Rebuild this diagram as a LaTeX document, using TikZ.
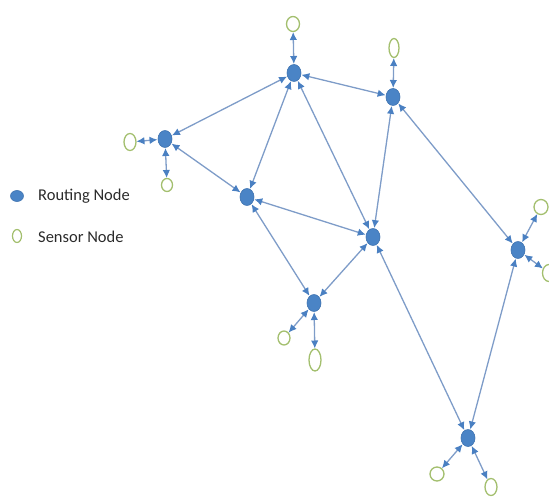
\documentclass[tikz,border=0pt]{standalone}
\usepackage{fontspec}
\setmainfont{Carlito}
\usetikzlibrary{arrows.meta,shapes.geometric}
\definecolor{routc}{HTML}{4A84C6}
\definecolor{routd}{HTML}{3F73B0}
\definecolor{sensc}{HTML}{A3BF6E}
\definecolor{linec}{HTML}{7E9CC8}
\definecolor{tipc}{HTML}{4A80C2}
\definecolor{txtc}{HTML}{2A2A2A}
\tikzset{
  routing/.style={ellipse,fill=routc,draw=routd,line width=0.6pt,minimum width=14pt,minimum height=17pt,inner sep=0pt,outer sep=0.5pt},
  sensor/.style={ellipse,fill=white,draw=sensc,line width=1.3pt,inner sep=0pt,outer sep=0.5pt},
  link/.style={draw=linec,line width=1.3pt,{Latex[length=8pt,width=7.5pt,color=tipc]}-{Latex[length=8pt,width=7.5pt,color=tipc]}},
  legtext/.style={anchor=west,font=\fontsize{16.5}{18}\selectfont,text=txtc,inner sep=0pt}
}
\begin{document}
\begin{tikzpicture}[x=1pt,y=-1pt]
\useasboundingbox (0,0) rectangle (549,497);
% routing nodes
\node[routing] (A) at (294,73) {};
\node[routing] (B) at (393,97) {};
\node[routing] (C) at (165,139) {};
\node[routing] (D) at (247,197) {};
\node[routing] (E) at (373,237) {};
\node[routing] (F) at (518,250) {};
\node[routing] (G) at (314,303) {};
\node[routing] (H) at (468,438) {};
% sensor nodes
\node[sensor,minimum width=13pt,minimum height=15pt] (sA) at (293,24) {};
\node[sensor,minimum width=10pt,minimum height=19pt] (sB) at (394,48) {};
\node[sensor,minimum width=12pt,minimum height=17pt] (sC1) at (130,142) {};
\node[sensor,minimum width=11pt,minimum height=13pt] (sC2) at (167,185) {};
\node[sensor,minimum width=14pt,minimum height=15pt] (sF1) at (541,207) {};
\node[sensor,minimum width=13pt,minimum height=17pt] (sF2) at (549,273) {};
\node[sensor,minimum width=12pt,minimum height=14pt] (sG1) at (284,338) {};
\node[sensor,minimum width=12pt,minimum height=22pt] (sG2) at (315,360) {};
\node[sensor,minimum width=14pt,minimum height=14pt] (sH1) at (437,474) {};
\node[sensor,minimum width=12pt,minimum height=17pt] (sH2) at (491,487) {};
% links between routing nodes
\draw[link] (A) -- (C);
\draw[link] (A) -- (B);
\draw[link] (A) -- (D);
\draw[link] (A) -- (E);
\draw[link] (B) -- (E);
\draw[link] (B) -- (F);
\draw[link] (C) -- (D);
\draw[link] (D) -- (E);
\draw[link] (D) -- (G);
\draw[link] (E) -- (G);
\draw[link] (E) -- (H);
\draw[link] (F) -- (H);
% links to sensors
\draw[link] (A) -- (sA);
\draw[link] (B) -- (sB);
\draw[link] (C) -- (sC1);
\draw[link] (C) -- (sC2);
\draw[link] (F) -- (sF1);
\draw[link] (F) -- (sF2);
\draw[link] (G) -- (sG1);
\draw[link] (G) -- (sG2);
\draw[link] (H) -- (sH1);
\draw[link] (H) -- (sH2);
% legend
\node[ellipse,fill=routc,draw=routd,line width=0.6pt,minimum width=13pt,minimum height=11pt,inner sep=0pt] (lr) at (17,196) {};
\node[legtext] (lrt) at (38,196) {Routing Node};
\node[ellipse,fill=white,draw=sensc,line width=1.2pt,minimum width=9pt,minimum height=13pt,inner sep=0pt] (ls) at (17,236) {};
\node[legtext] (lst) at (38,237) {Sensor Node};
\end{tikzpicture}
\end{document}
